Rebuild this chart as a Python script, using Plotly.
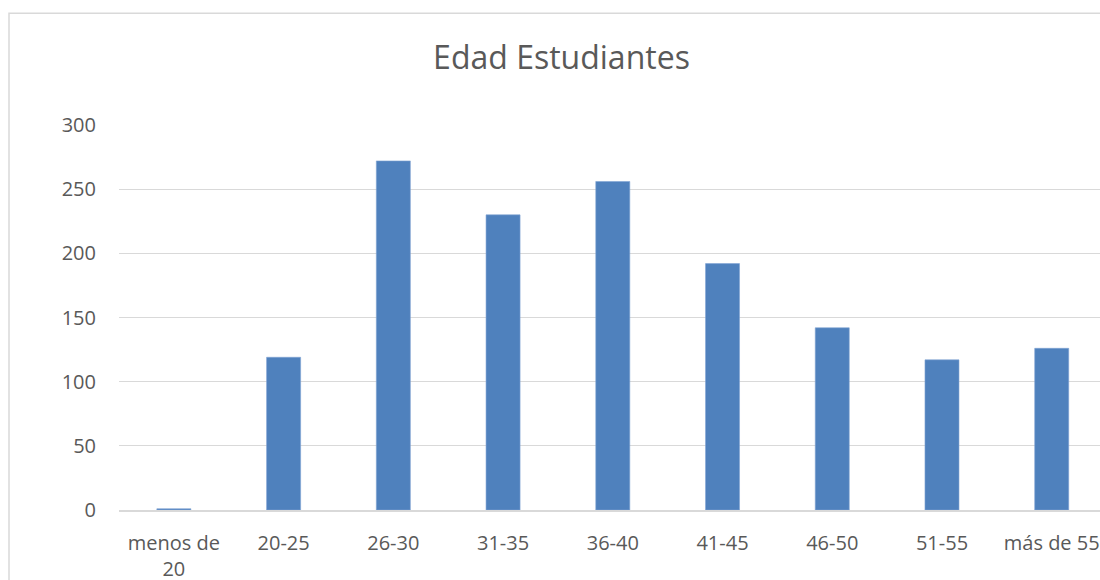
import plotly.graph_objects as go

categories = ["menos de<br>20", "20-25", "26-30", "31-35", "36-40", "41-45", "46-50", "51-55", "más de 55"]
values = [1, 119, 272, 230, 256, 192, 142, 117, 126]
y_ticks = [0, 50, 100, 150, 200, 250, 300]

W, H = 1100, 580
L, R, T = 119, 0, 125
B = H - 510.5
pw = W - L - R
ph = H - T - B

fig = go.Figure()
fig.add_trace(go.Bar(
    x=categories, y=values, width=0.31,
    marker=dict(color="#4F81BD", line=dict(color="#7FA3D3", width=0.6)),
))

fig.update_layout(
    width=W, height=H,
    margin=dict(l=L, r=R, t=T, b=B, pad=0, autoexpand=False),
    paper_bgcolor="white", plot_bgcolor="white",
    showlegend=False,
    font=dict(family="Open Sans", color="#595959", size=20),
    title=dict(text="Edad Estudiantes", x=(561.5 - L) / pw, xref="paper", xanchor="center",
               y=(H - 58) / H, yanchor="middle",
               font=dict(size=32, color="#595959", family="Open Sans")),
    xaxis=dict(range=[-0.5, 8.44], showgrid=False, showline=True, linecolor="#d9d9d9", linewidth=1.5,
               ticks="", tickfont=dict(size=20, color="#595959"), ticklabelstandoff=14,
               automargin=False, fixedrange=True),
    yaxis=dict(range=[0, 300], tickvals=y_ticks, showgrid=True, gridcolor="#d9d9d9", gridwidth=1.3,
               zeroline=False, showline=False, ticks="", tickfont=dict(size=20, color="#595959"),
               ticklabelstandoff=22, automargin=False, fixedrange=True),
    shapes=[dict(type="rect", xref="paper", yref="paper",
                 x0=(9 - L) / pw, x1=1.05, y0=-0.5, y1=(510.5 - 13) / ph,
                 line=dict(color="#d9d9d9", width=1.5), fillcolor="rgba(0,0,0,0)", layer="below")],
)

fig.write_html(
    "out.html",
    config={"displayModeBar": False},
    post_script="document.body.style.margin='0px';document.body.style.overflow='hidden';",
)
